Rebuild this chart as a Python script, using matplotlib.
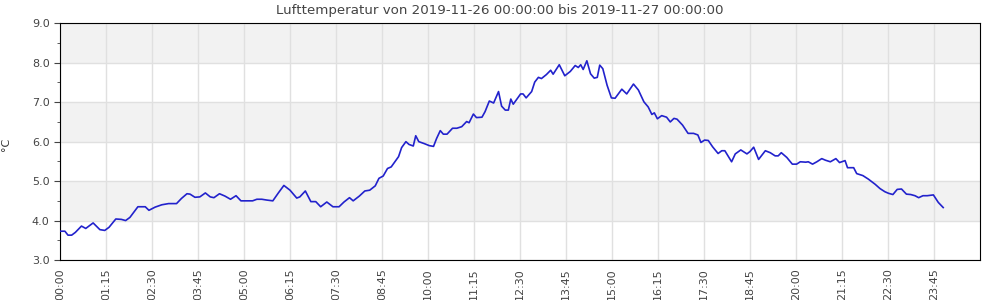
import matplotlib
matplotlib.use("Agg")
from matplotlib import pyplot as plt
import matplotlib.dates as mdates
import numpy as np
import pandas as pd

# minuten seit 00:00 und temperatur
minuten = [0, 8, 13, 19, 25, 35, 42, 54, 65, 73, 80, 91, 100, 107, 114, 127, 139, 145,
           155, 166, 177, 190, 198, 207, 212, 220, 228, 237, 245, 251, 260, 269, 278, 287,
           295, 314, 321, 329, 337, 347, 356, 365, 375, 386, 391, 400, 409, 417, 425, 435,
           445, 455, 463, 472, 478, 488, 497, 505, 514, 520, 527, 534, 540, 546, 552, 557,
           564, 569, 576, 580, 585, 594, 602, 609, 614, 620, 625, 631, 640, 647, 655, 663,
           667, 674, 679, 688, 693, 700, 707, 715, 720, 726, 731, 735, 739, 751, 755, 760,
           769, 774, 780, 785, 793, 800, 804, 814, 823, 832, 840, 845, 849, 853, 859, 865,
           871, 876, 880, 885, 892, 899, 905, 916, 924, 935, 943, 952, 959, 965, 969, 974,
           981, 989, 995, 1001, 1006, 1015, 1024, 1033, 1040, 1045, 1051, 1057, 1064, 1073,
           1079, 1084, 1090, 1095, 1101, 1110, 1120, 1125, 1131, 1139, 1150, 1158, 1166,
           1171, 1176, 1185, 1194, 1201, 1207, 1216, 1220, 1227, 1234, 1242, 1248, 1256,
           1265, 1271, 1280, 1284, 1294, 1299, 1309, 1318, 1329, 1337, 1345, 1351, 1358,
           1365, 1372, 1380, 1387, 1394, 1400, 1407, 1414, 1424, 1432, 1440]
temp = [3.73, 3.73, 3.63, 3.63, 3.70, 3.86, 3.80, 3.94, 3.77, 3.75, 3.83, 4.04, 4.03, 4.00,
        4.08, 4.35, 4.35, 4.26, 4.34, 4.40, 4.43, 4.43, 4.56, 4.68, 4.67, 4.59, 4.60, 4.70,
        4.60, 4.58, 4.68, 4.62, 4.54, 4.63, 4.50, 4.50, 4.54, 4.54, 4.52, 4.50, 4.70, 4.89,
        4.77, 4.57, 4.60, 4.75, 4.48, 4.48, 4.35, 4.47, 4.35, 4.35, 4.47, 4.58, 4.50, 4.62,
        4.75, 4.77, 4.88, 5.07, 5.13, 5.32, 5.36, 5.49, 5.62, 5.85, 6.00, 5.93, 5.89, 6.15,
        6.00, 5.95, 5.90, 5.88, 6.08, 6.28, 6.19, 6.19, 6.34, 6.34, 6.38, 6.51, 6.48, 6.70,
        6.61, 6.62, 6.76, 7.03, 6.98, 7.27, 6.90, 6.80, 6.80, 7.08, 6.95, 7.21, 7.21, 7.11,
        7.27, 7.51, 7.63, 7.60, 7.70, 7.81, 7.71, 7.95, 7.67, 7.78, 7.93, 7.88, 7.95, 7.83,
        8.05, 7.72, 7.61, 7.63, 7.94, 7.85, 7.43, 7.11, 7.10, 7.33, 7.21, 7.46, 7.31, 7.01,
        6.88, 6.69, 6.73, 6.58, 6.66, 6.62, 6.50, 6.59, 6.57, 6.42, 6.21, 6.21, 6.17, 5.98,
        6.04, 6.03, 5.87, 5.70, 5.77, 5.77, 5.62, 5.49, 5.69, 5.79, 5.69, 5.75, 5.86, 5.55,
        5.77, 5.72, 5.64, 5.64, 5.72, 5.60, 5.43, 5.43, 5.49, 5.48, 5.49, 5.43, 5.49, 5.57,
        5.53, 5.49, 5.57, 5.47, 5.52, 5.34, 5.34, 5.19, 5.14, 5.05, 4.92, 4.81, 4.73, 4.69,
        4.66, 4.79, 4.80, 4.67, 4.66, 4.63, 4.58, 4.63, 4.63, 4.65, 4.46, 4.33]

start = pd.Timestamp("2019-11-26 00:00:00")
zeit = start + pd.to_timedelta(minuten, unit="min")
tick_zeiten = pd.date_range(start, periods=20, freq="75min")

fig = plt.figure(figsize=(10, 3), dpi=100)
ax = fig.add_axes([0.06, 0.1333, 0.92, 0.789])

# graue streifen
for lo in [4, 6, 8]:
    ax.axhspan(lo, lo + 1, color="#f2f2f2", zorder=0, lw=0)

ax.plot(zeit, temp, color="#2222cc", lw=1.2, zorder=3)

ax.set_ylim(3, 9)
ax.set_yticks(np.arange(3, 9.01, 1.0))
ax.set_yticks(np.arange(3.5, 9, 1.0), minor=True)
ax.yaxis.set_major_formatter(matplotlib.ticker.FormatStrFormatter("%.1f"))
ax.set_xlim(start, start + pd.Timedelta(minutes=1500))
ax.xaxis.set_major_locator(matplotlib.ticker.FixedLocator(mdates.date2num(tick_zeiten)))
ax.xaxis.set_major_formatter(mdates.DateFormatter("%H:%M"))

ax.grid(True, which="major", color="#e0e0e0", lw=1, zorder=1)
ax.set_axisbelow(True)
ax.tick_params(axis="y", which="major", length=4, labelsize=8, colors="#444444")
ax.tick_params(axis="y", which="minor", length=2.5, color="#444444")
ax.tick_params(axis="x", length=0, pad=6, labelsize=8, labelrotation=90, colors="#444444")
for s in ax.spines.values():
    s.set_color("black")

# titel ist auf die ganze figur zentriert
fig.text(0.5, 0.965, "Lufttemperatur von 2019-11-26 00:00:00 bis 2019-11-27 00:00:00",
         ha="center", va="center", fontsize=9.6, color="#444444")
ax.set_ylabel("°C", fontsize=8, color="#333333")
ax.yaxis.set_label_coords(-0.053, 0.49)

fig.savefig("out.png", dpi=100)
